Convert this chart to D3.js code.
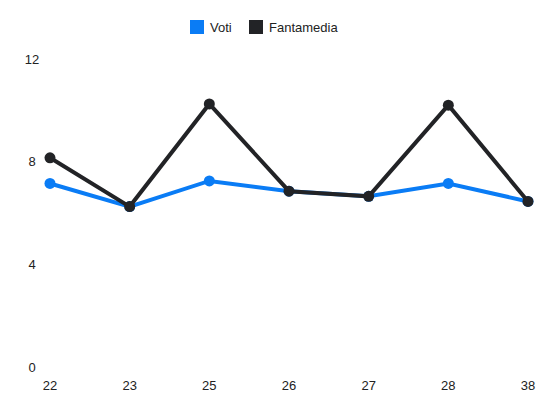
<!DOCTYPE html>
<html>
<head>
<meta charset="UTF-8">
<script src="https://d3js.org/d3.v7.min.js"></script>
<style>body{margin:0;background:#fff}text{font-family:"Liberation Sans",Arial,sans-serif}</style>
</head>
<body>
<script>
var giornate = ["22","23","25","26","27","28","38"];
var voti = [7.15, 6.25, 7.25, 6.85, 6.65, 7.15, 6.45];
var fantamedia = [8.15, 6.25, 10.25, 6.85, 6.65, 10.2, 6.45];
var yTicks = [0, 4, 8, 12];

var svg = d3.select("body").append("svg").attr("width", 550).attr("height", 412);
var x = d3.scalePoint().domain(giornate).range([50, 528]);
var y = d3.scaleLinear().domain([0, 12]).range([367, 59]);

svg.selectAll(".yl").data(yTicks).enter().append("text")
	.attr("x", 32).attr("y", function(d){ return y(d); }).attr("dy", "0.35em")
	.attr("text-anchor", "middle").attr("font-size", 13).attr("fill", "#222")
	.text(function(d){ return d; });
svg.selectAll(".xl").data(giornate).enter().append("text")
	.attr("x", function(d){ return x(d); }).attr("y", 390)
	.attr("text-anchor", "middle").attr("font-size", 13).attr("fill", "#222")
	.text(function(d){ return d; });

var series = [{name:"Voti", vals:voti, color:"#0a7cf5"}, {name:"Fantamedia", vals:fantamedia, color:"#222326"}];
var line = d3.line().x(function(d, i){ return x(giornate[i]); }).y(function(d){ return y(d); });
series.forEach(function(s){
	svg.append("path").attr("d", line(s.vals)).attr("fill", "none")
		.attr("stroke", s.color).attr("stroke-width", 4);
	svg.selectAll(null).data(s.vals).enter().append("circle")
		.attr("cx", function(d, i){ return x(giornate[i]); })
		.attr("cy", function(d){ return y(d); })
		.attr("r", 5.5).attr("fill", s.color);
});

var lx = [190, 249];
series.forEach(function(s, i){
	svg.append("rect").attr("x", lx[i]).attr("y", 20).attr("width", 14).attr("height", 14).attr("fill", s.color);
	svg.append("text").attr("x", lx[i] + 20).attr("y", 27).attr("dy", "0.35em")
		.attr("font-size", 13).attr("fill", "#222").text(s.name);
});
</script>
</body>
</html>
